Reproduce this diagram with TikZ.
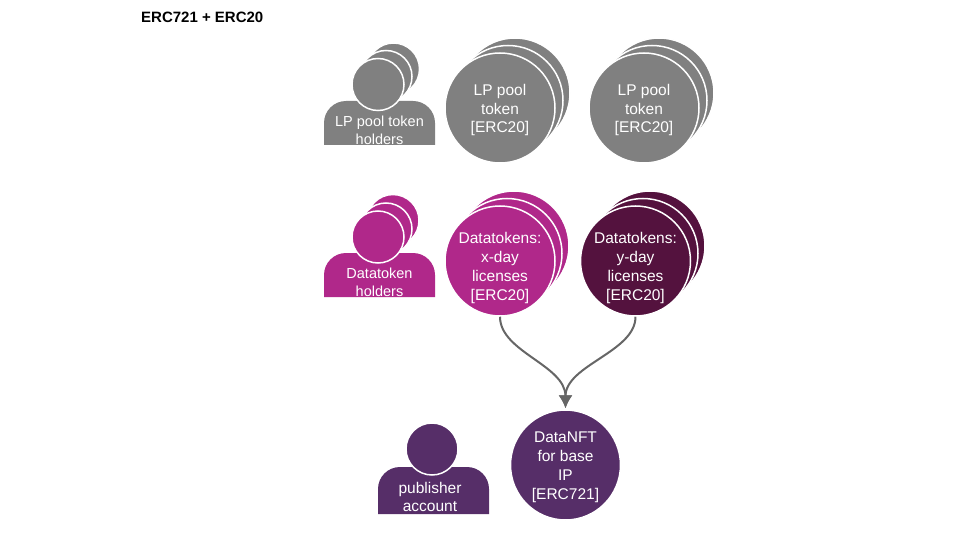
\documentclass[tikz,border=0pt]{standalone}
\usepackage{fontspec}
\setmainfont{Liberation Sans}
\usetikzlibrary{arrows.meta}
\tikzset{>={Latex[width=14pt,length=13pt]}}
\definecolor{poolgray}{HTML}{808080}
\definecolor{magenta}{HTML}{B0288A}
\definecolor{darkplum}{HTML}{54123E}
\definecolor{purple}{HTML}{562E68}
\definecolor{arrowgray}{HTML}{666666}
\tikzset{
  token/.style={circle, draw=white, line width=1.5pt, minimum size=110pt, inner sep=0pt},
  tokentext/.style={align=center, text=white, font=\fontsize{15.5}{18.9}\selectfont},
  head/.style={circle, draw=white, line width=1.5pt, minimum size=52pt, inner sep=0pt},
  bodytext/.style={align=center, text=white, font=\fontsize{14.5}{18.2}\selectfont},
  link/.style={->, draw=arrowgray, line width=2pt, shorten >=1pt}
}
\newcommand{\BODY}[4]{%% colour, left, top, height
  \fill[#1, shift={(#2,#3)}] (0,#4) [rounded corners=22pt] -- (0,0) -- (111,0) [sharp corners] -- (111,#4) -- cycle;
}

\begin{document}
\begin{tikzpicture}[x=1pt,y=-1pt]

  \useasboundingbox (0,0) rectangle (960,540);

  \node[anchor=west, inner sep=0pt, font=\fontsize{15}{18}\selectfont\bfseries] (title) at (141,17) {ERC721 + ERC20};

  %% LP row
  \BODY{poolgray}{324}{101}{44}
  \node[head, fill=poolgray] (lphead3) at (393.5,69) {};
  \node[head, fill=poolgray] (lphead2) at (386,76.5) {};
  \node[head, fill=poolgray] (lphead1) at (378,84.5) {};
  \node[bodytext] (lpholders) at (379.5,130) {LP pool token\\holders};

  \node[token, fill=poolgray] (lpa3) at (515,93) {};
  \node[token, fill=poolgray] (lpa2) at (508,100.5) {};
  \node[token, fill=poolgray] (lpa1) at (500,108) {};
  \node[tokentext] (lpatext) at (500,110) {LP pool\\token\\{[ERC20]}};

  \node[token, fill=poolgray] (lpb3) at (659,93) {};
  \node[token, fill=poolgray] (lpb2) at (652,100.5) {};
  \node[token, fill=poolgray] (lpb1) at (644,108) {};
  \node[tokentext] (lpbtext) at (644,110) {LP pool\\token\\{[ERC20]}};

  %% datatoken row
  \BODY{magenta}{324}{253}{44}
  \node[head, fill=magenta] (dthead3) at (393,220.5) {};
  \node[head, fill=magenta] (dthead2) at (386,229) {};
  \node[head, fill=magenta] (dthead1) at (378,237) {};
  \node[bodytext] (dtholders) at (379.5,282) {Datatoken\\holders};

  \node[token, fill=magenta] (xday3) at (514,246) {};
  \node[token, fill=magenta] (xday2) at (507,253.5) {};
  \node[token, fill=magenta] (xday1) at (500,261) {};
  \node[tokentext] (xdaytext) at (500,268) {Datatokens:\\x-day\\licenses\\{[ERC20]}};

  \node[token, fill=darkplum] (yday3) at (650,246) {};
  \node[token, fill=darkplum] (yday2) at (643,253.5) {};
  \node[token, fill=darkplum] (yday1) at (635.5,261) {};
  \node[tokentext] (ydaytext) at (635.5,268) {Datatokens:\\y-day\\licenses\\{[ERC20]}};

  %% publisher row
  \BODY{purple}{378}{467}{47}
  \node[head, fill=purple] (pubhead) at (432,449) {};
  \node[bodytext, font=\fontsize{15.5}{18.2}\selectfont] (publisher) at (430,497) {publisher\\account};

  \node[token, fill=purple] (datanft) at (565.5,465) {};
  \node[tokentext] (datanfttext) at (565.5,467.5) {DataNFT\\for base\\IP\\{[ERC721]}};

  \draw[link] (xday1.south) .. controls (500,352) and (565.5,365) .. (datanft.north);
  \draw[link] (yday1.south) .. controls (635.5,352) and (565.5,365) .. (datanft.north);

\end{tikzpicture}
\end{document}
